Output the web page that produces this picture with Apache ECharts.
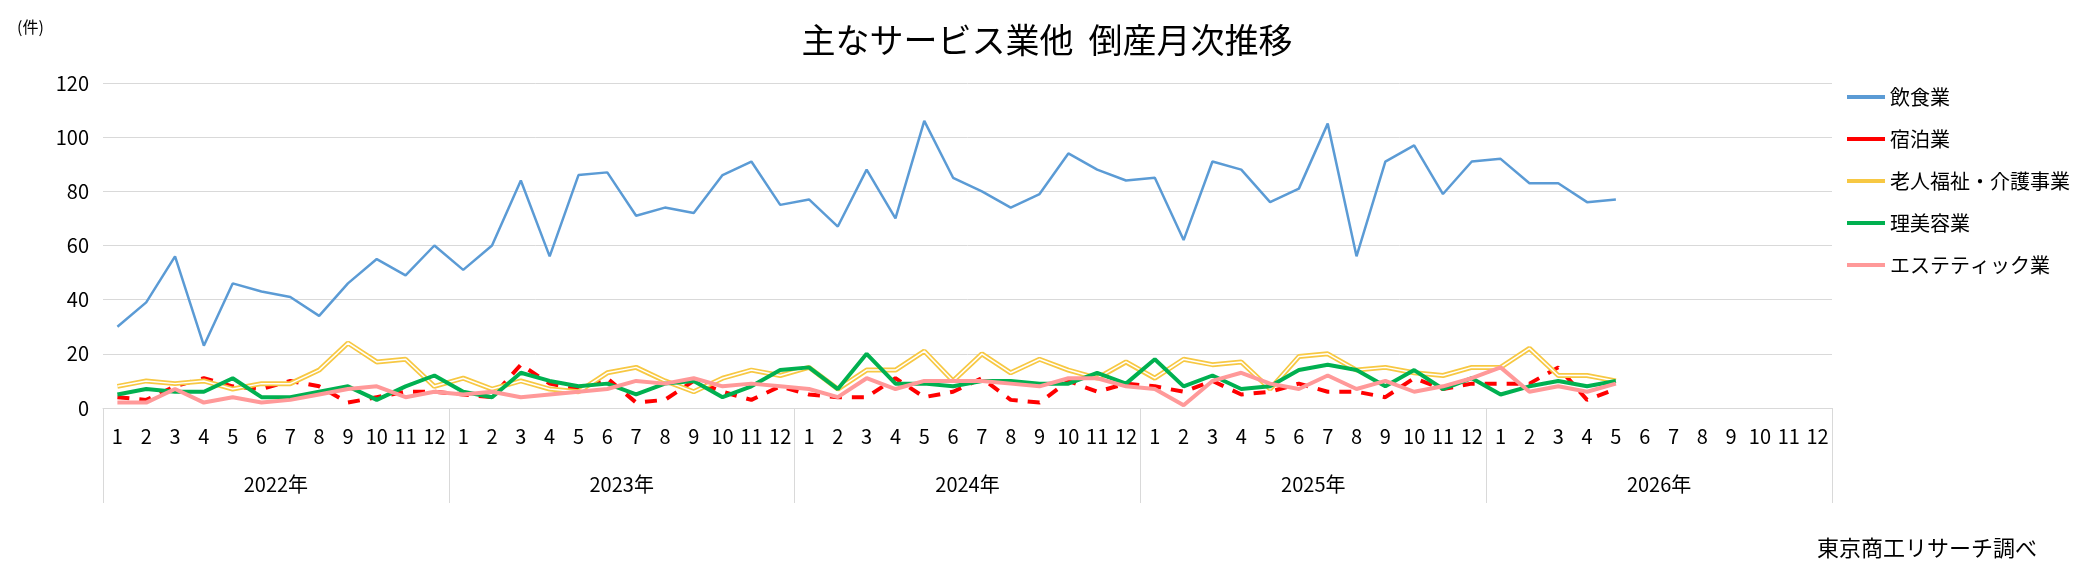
<!DOCTYPE html>
<html><head><meta charset="utf-8">
<script src="https://cdn.jsdelivr.net/npm/echarts@6/dist/echarts.min.js"></script>
<style>html,body{margin:0;background:#fff}#c{width:2084px;height:568px}</style>
</head><body><div id="c"></div>
<script>
const years = ['2022年', '2023年', '2024年', '2025年', '2026年'];
const months = [];
for (let y = 0; y < 5; y++) for (let m = 1; m <= 12; m++) months.push(String(m));
const inshoku = [30,39,56,23,46,43,41,34,46,55,49,60, 51,60,84,56,86,87,71,74,72,86,91,75, 77,67,88,70,106,85,80,74,79,94,88,84, 85,62,91,88,76,81,105,56,91,97,79,91, 92,83,83,76,77];
const shukuhaku = [4,3,8,11,8,7,10,8,2,4,6,6, 5,4,16,9,7,11,2,3,10,6,3,8, 5,4,4,11,4,6,11,3,2,10,6,9, 8,6,10,5,6,9,6,6,4,11,7,9, 9,9,15,3,7];
const kaigo = [8,10,9,10,7,9,9,14,24,17,18,8, 11,7,10,7,6,13,15,10,6,11,14,12, 15,7,14,14,21,10,20,13,18,14,11,17, 11,18,16,17,7,19,20,14,15,13,12,15, 15,22,12,12,10];
const ribiyo = [5,7,6,6,11,4,4,6,8,3,8,12, 6,4,13,10,8,9,5,9,10,4,8,14, 15,7,20,9,9,8,10,10,9,9,13,9, 18,8,12,7,8,14,16,14,8,14,7,11, 5,8,10,8,10];
const esthe = [2,2,7,2,4,2,3,5,7,8,4,6, 5,6,4,5,6,7,10,9,11,8,9,8, 7,4,11,7,10,10,10,9,8,11,11,8, 7,1,10,13,9,7,12,7,10,6,8,11, 15,6,8,6,9];

const font = '"Noto Sans CJK JP", sans-serif';
const chart = echarts.init(document.getElementById('c'));
const line = (name, data, color, width, extra) => Object.assign({
  name, type: 'line', data, symbol: 'none', smooth: false,
  lineStyle: { color, width }, itemStyle: { color }
}, extra || {});
chart.setOption({
  animation: false,
  textStyle: { fontFamily: font },
  title: [
    { text: '主なサービス業他  倒産月次推移', left: 1042, top: 18, textAlign: 'center',
      textStyle: { fontFamily: font, fontSize: 34, fontWeight: 'normal', color: '#000' } },
    { text: '(件)', left: 12, top: 14, textStyle: { fontFamily: font, fontSize: 16, fontWeight: 'normal', color: '#000' } },
    { text: '東京商工リサーチ調べ', left: 1812, top: 532, textStyle: { fontFamily: font, fontSize: 22, fontWeight: 'normal', color: '#000' } }
  ],
  legend: {
    orient: 'vertical', left: 1842, top: 82, itemGap: 22, itemWidth: 38, itemHeight: 4,
    data: ['飲食業', '宿泊業', '老人福祉・介護事業', '理美容業', 'エステティック業'],
    textStyle: { fontFamily: font, fontSize: 20, color: '#000' },
    icon: 'rect'
  },
  grid: { left: 103, right: 2084 - 1832, top: 83, bottom: 568 - 408 },
  xAxis: [
    { type: 'category', data: months, boundaryGap: true,
      axisLine: { lineStyle: { color: '#d9d9d9' } }, axisTick: { show: false },
      axisLabel: { interval: 0, color: '#000', fontSize: 20, margin: 18, fontFamily: font } },
    { type: 'category', data: years, boundaryGap: true, position: 'bottom',
      axisLine: { show: false },
      axisTick: { show: true, length: 95, lineStyle: { color: '#d9d9d9' } },
      axisLabel: { color: '#000', fontSize: 20, margin: 66, fontFamily: font } }
  ],
  yAxis: { type: 'value', min: 0, max: 120, interval: 20,
    axisLine: { show: false }, axisTick: { show: false },
    splitLine: { lineStyle: { color: '#d9d9d9' } },
    axisLabel: { color: '#000', fontSize: 20, margin: 14, fontFamily: font } },
  series: [
    line('飲食業', inshoku, '#5b9bd5', 2.5),
    line('宿泊業', shukuhaku, '#ff0000', 4, { lineStyle: { color: '#ff0000', width: 4, type: [12, 10] } }),
    line('老人福祉・介護事業', kaigo, '#f7c843', 5),
    line('kaigo-inner', kaigo, '#ffffff', 1.5, { legendHoverLink: false }),
    line('理美容業', ribiyo, '#00b050', 4),
    line('エステティック業', esthe, '#ff9999', 4)
  ]
});
</script></body></html>
